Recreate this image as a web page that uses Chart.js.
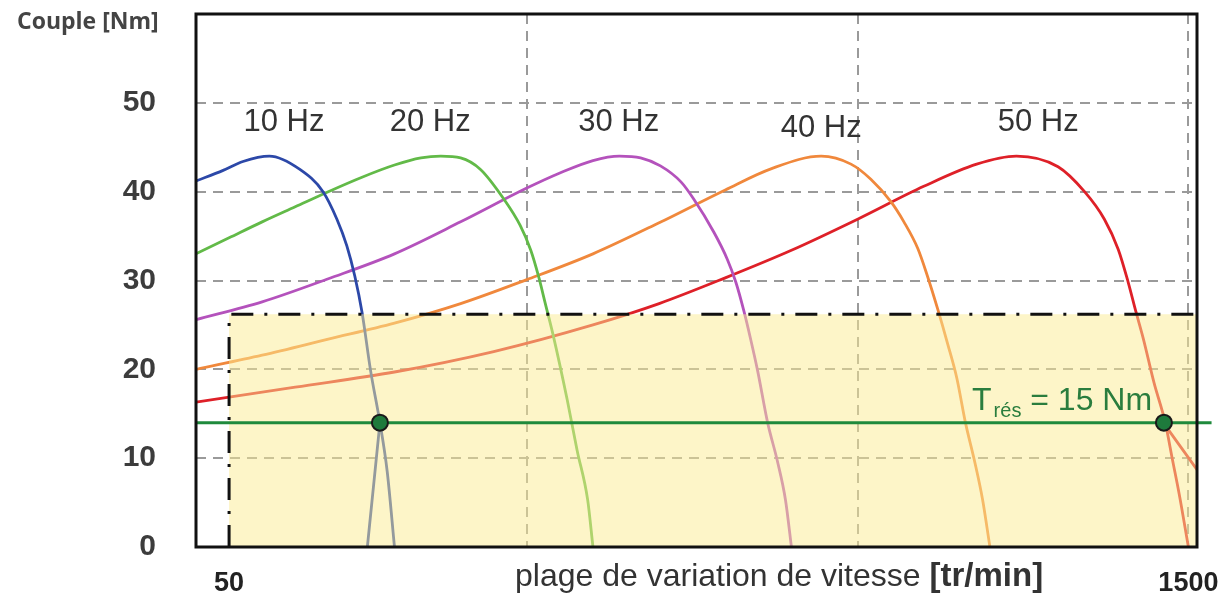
<!DOCTYPE html>
<html>
<head>
<meta charset="utf-8">
<script src="https://cdn.jsdelivr.net/npm/chart.js@4.4.1/dist/chart.umd.min.js"></script>
<style>
  html, body { margin: 0; padding: 0; background: #fff; }
  #wrap { width: 1230px; height: 600px; }
</style>
</head>
<body>
<div id="wrap"><canvas id="torqueChart" width="1230" height="600"></canvas></div>
<script>
// vitesse [tr/min] -> couple [Nm], une courbe par fréquence
const rpm10 = [0, 41, 71, 111, 157, 192, 213, 228, 240, 251, 264, 278, 289, 300];
const nm10  = [41.2, 42.4, 43.4, 44.0, 42.5, 40.0, 36.9, 33.9, 30.5, 26.4, 19.8, 14.0, 8.5, 0];

const rpm20 = [0, 50, 100, 150, 200, 250, 300, 340, 370, 400, 430, 465, 490, 506, 518, 528, 540, 561, 576, 592, 600];
const nm20  = [33.0, 34.8, 36.6, 38.3, 40.0, 41.6, 43.0, 43.8, 44.0, 43.8, 42.5, 39.2, 36.2, 33.4, 30.4, 27.4, 23.8, 16.6, 10.9, 5.3, 0];

const rpm30 = [0, 100, 200, 300, 400, 500, 550, 600, 640, 672, 702, 733, 752, 783, 803, 816, 828, 838, 849, 864, 879, 891, 900];
const nm30  = [25.6, 27.6, 30.2, 33.0, 36.6, 40.4, 42.1, 43.5, 44.0, 43.8, 42.9, 41.1, 39.2, 35.4, 32.4, 29.8, 26.6, 23.5, 19.8, 14.0, 9.6, 5.3, 0];

const rpm40 = [0, 100, 200, 300, 400, 500, 600, 700, 800, 870, 945, 990, 1020, 1050, 1070, 1091, 1106, 1121, 1136, 1150, 1163, 1177, 1189, 1200];
const nm40  = [20.0, 21.6, 23.4, 25.2, 27.4, 30.1, 33.0, 36.5, 40.2, 42.6, 44.0, 43.1, 41.4, 38.9, 36.6, 33.6, 30.4, 26.8, 22.9, 19.0, 14.0, 9.6, 5.3, 0];

const rpm50 = [0, 150, 300, 450, 600, 700, 800, 900, 1000, 1100, 1180, 1240, 1303, 1343, 1373, 1394, 1409, 1421, 1432, 1448, 1465, 1476, 1486, 1500];
const nm50  = [16.3, 18.0, 19.7, 22.0, 25.0, 27.4, 30.3, 33.4, 36.9, 40.6, 43.1, 44.0, 42.8, 40.0, 36.9, 33.5, 29.8, 26.4, 23.4, 18.5, 14.0, 9.8, 6.0, 0];

// segments droits (démarrage à 10 Hz, sortie à 50 Hz)
const rpmStart10 = [278, 259];
const nmStart10  = [14.0, 0];
const rpmEnd50   = [1462, 1513];
const nmEnd50    = [14.0, 8.7];

// couple résistant et points de fonctionnement
const rpmRes = [0, 1535];
const nmRes  = [14.0, 14.0];
const rpmOp  = [278, 1463];
const nmOp   = [14.0, 14.0];

// zone de fonctionnement (plage de vitesse x couple)
const rpmZone = [50, 50, 1513];
const nmZone  = [0, 26.2, 26.2];

const freqLabels = ['10 Hz', '20 Hz', '30 Hz', '40 Hz', '50 Hz'];
const xTickValues = [50, 500, 1000, 1500];
const xTickLabels = ['50', '', '', '1500'];
const yTickValues = [0, 10, 20, 30, 40, 50];
const yTitle = 'Couple [Nm]';
const xTitle = 'plage de variation de vitesse ';
const xTitleUnit = '[tr/min]';

const pts = (xs, ys) => xs.map((v, i) => ({ x: v, y: ys[i] }));

// ancrage des étiquettes (en unités des axes)
const labelAt = [[133, 46.8], [354, 46.8], [639, 46.8], [945, 46.1], [1273, 46.8]];
const resLabelAt = [1173, 15.4];

const curve = (data, color) => ({
  data, borderColor: color, borderWidth: 2.8, pointRadius: 0,
  cubicInterpolationMode: 'monotone', fill: false, order: 3
});

const decor = {
  id: 'decor',
  afterDraw(chart) {
    const { ctx, chartArea: a, scales: { x, y } } = chart;
    ctx.save();
    ctx.setLineDash([]);
    ctx.strokeStyle = '#111';
    ctx.lineWidth = 3;
    ctx.strokeRect(a.left, a.top, a.right - a.left, a.bottom - a.top);

    ctx.fillStyle = '#444';
    ctx.font = 'bold 23px "Open Sans"';
    ctx.textAlign = 'left';
    ctx.textBaseline = 'middle';
    ctx.fillText(yTitle, 17, 22);

    ctx.fillStyle = '#333';
    ctx.font = '31px "Liberation Sans"';
    ctx.textAlign = 'center';
    ctx.textBaseline = 'alphabetic';
    freqLabels.forEach((t, i) => {
      ctx.fillText(t, x.getPixelForValue(labelAt[i][0]), y.getPixelForValue(labelAt[i][1]));
    });

    // T rés = 15 Nm
    ctx.fillStyle = '#2a7d3e';
    ctx.textAlign = 'left';
    let px = x.getPixelForValue(resLabelAt[0]);
    const py = y.getPixelForValue(resLabelAt[1]);
    ctx.font = '32px "Liberation Sans"';
    ctx.fillText('T', px, py);
    px += ctx.measureText('T').width + 2;
    ctx.font = '20px "Liberation Sans"';
    ctx.fillText('rés', px, py + 7);
    px += ctx.measureText('rés').width;
    ctx.font = '32px "Liberation Sans"';
    ctx.fillText(' = 15 Nm', px, py);

    // titre axe x
    ctx.fillStyle = '#333';
    ctx.font = '32px "Liberation Sans"';
    let tx = 515;
    ctx.fillText(xTitle, tx, 586);
    tx += ctx.measureText(xTitle).width;
    ctx.font = 'bold 33px "Liberation Sans"';
    ctx.fillText(xTitleUnit, tx, 586);
    ctx.restore();
  }
};

const gridGray = '#9a9a9a';

new Chart(document.getElementById('torqueChart'), {
  type: 'line',
  data: {
    datasets: [
      { data: pts(rpmOp, nmOp), showLine: false, pointRadius: 8, pointBorderWidth: 2,
        pointBackgroundColor: '#1e7a3c', pointBorderColor: '#1a1a1a', order: 0, clip: false },
      { data: pts(rpmRes, nmRes), borderColor: '#1f8a3c', borderWidth: 3, pointRadius: 0, order: 1, clip: false },
      { data: pts(rpmZone, nmZone), borderColor: '#111', borderWidth: 3, borderDash: [22, 11, 3, 11],
        pointRadius: 0, fill: 'origin', backgroundColor: 'rgba(252,236,145,0.5)', order: 2 },
      curve(pts(rpm10, nm10), '#2c48a8'),
      curve(pts(rpmStart10, nmStart10), '#2c48a8'),
      curve(pts(rpm20, nm20), '#62ba48'),
      curve(pts(rpm30, nm30), '#b452bc'),
      curve(pts(rpm40, nm40), '#f0883c'),
      curve(pts(rpm50, nm50), '#de2028'),
      curve(pts(rpmEnd50, nmEnd50), '#de2028')
    ]
  },
  options: {
    responsive: false,
    animation: false,
    devicePixelRatio: 1,
    layout: { padding: { top: 14, right: 33, left: 0, bottom: 0 } },
    plugins: { legend: { display: false }, tooltip: { enabled: false } },
    scales: {
      x: {
        type: 'linear', min: 0, max: 1513,
        afterBuildTicks: s => { s.ticks = xTickValues.map(v => ({ value: v })); },
        afterFit: s => { s.height = 53; s.paddingLeft = 0; s.paddingRight = 0; },
        grid: {
          color: c => (c.tick && c.tick.value === 50) ? 'rgba(0,0,0,0)' : gridGray,
          lineWidth: 2, drawTicks: false
        },
        border: { display: false, dash: [10, 7] },
        ticks: {
          padding: 20, maxRotation: 0, autoSkip: false, color: '#222',
          font: { family: 'Liberation Sans', size: 27, weight: 'bold' },
          callback: v => xTickLabels[xTickValues.indexOf(v)]
        }
      },
      y: {
        min: 0, max: 60,
        afterBuildTicks: s => { s.ticks = yTickValues.map(v => ({ value: v })); },
        afterFit: s => { s.width = 196; s.paddingTop = 0; s.paddingBottom = 0; },
        grid: {
          color: c => (c.tick && c.tick.value === 0) ? 'rgba(0,0,0,0)' : gridGray,
          lineWidth: 2, drawTicks: false
        },
        border: { display: false, dash: [10, 7] },
        ticks: {
          padding: 40, color: '#3c3c3c',
          font: { family: 'Liberation Sans', size: 30, weight: 'bold' },
          callback: v => String(v)
        }
      }
    }
  },
  plugins: [decor]
});
</script>
</body>
</html>
